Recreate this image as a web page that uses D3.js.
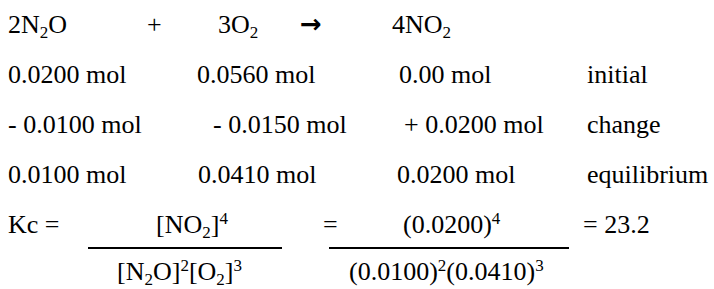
<!DOCTYPE html>
<html>
<head>
<meta charset="utf-8">
<script src="https://cdn.jsdelivr.net/npm/d3@7/dist/d3.min.js"></script>
<style>
  html, body { margin: 0; padding: 0; background: #fff; }
</style>
</head>
<body>
<div id="chart"></div>
<script>
// equation: "_x" = subscript, "^x" = superscript
const equation = ['2N_2O', '+', '3O_2', '\u2192', '4NO_2'];
const rowLabels = ['initial', 'change', 'equilibrium'];
const initial = ['0.0200 mol', '0.0560 mol', '0.00 mol'];
const change = ['- 0.0100 mol', '- 0.0150 mol', '+ 0.0200 mol'];
const equilibrium = ['0.0100 mol', '0.0410 mol', '0.0200 mol'];
const kcLabel = 'Kc =';
const kcSymbolic = { num: '[NO_2]^4', den: '[N_2O]^2[O_2]^3' };
const kcNumeric = { num: '(0.0200)^4', den: '(0.0100)^2(0.0410)^3' };
const kcResult = '= 23.2';

const width = 714, height = 289;
const fontSize = 26;
const serif = '"Liberation Serif", Tinos, serif';

const svg = d3.select('#chart').append('svg')
  .attr('width', width)
  .attr('height', height);

/* Scales */
const rowY = d3.scalePoint()
  .domain(['eq', 'initial', 'change', 'equilibrium', 'kc'])
  .range([33, 233]);

const eqX = d3.scaleOrdinal()
  .domain(d3.range(equation.length))
  .range([8, 147, 218, 300, 392]);

const colX = d3.scaleOrdinal()
  .domain([0, 1, 2, 3])
  .range([8, 197, 398, 587]);

// small nudges where the source was aligned with spaces
const rowShift = { initial: [0, 0, 1, 0], change: [0, 16, 6, 0], equilibrium: [0, 1, -1, 0] };

// write a string with _sub and ^sup into a text element
function rich(sel, str) {
  const parts = str.match(/[_^].|[^_^]+/g);
  let shift = 0;
  parts.forEach(p => {
    let dy = 0, size = fontSize, s = p;
    if (p[0] === '_') {
      s = p[1]; size = 17; dy = 5 - shift; shift = 5;
    } else if (p[0] === '^') {
      s = p[1]; size = 17; dy = -9 - shift; shift = -9;
    } else {
      dy = -shift; shift = 0;
    }
    sel.append('tspan')
      .attr('dy', dy)
      .style('font-size', size + 'px')
      .text(s);
  });
}

function txt(g) {
  return g.append('text')
    .style('font-family', serif)
    .style('font-size', fontSize + 'px');
}

/* Equation row */
svg.append('g').selectAll('text')
  .data(equation).enter()
  .append('text')
  .attr('x', (d, i) => eqX(i))
  .attr('y', rowY('eq'))
  .style('font-family', d => d === '\u2192' ? '"DejaVu Sans", sans-serif' : serif)
  .style('font-size', fontSize + 'px')
  .style('font-weight', d => d === '\u2192' ? 'bold' : 'normal')
  .each(function (d) { rich(d3.select(this), d); });

/* ICE rows */
const rows = [
  { key: 'initial', cells: initial.concat(rowLabels[0]) },
  { key: 'change', cells: change.concat(rowLabels[1]) },
  { key: 'equilibrium', cells: equilibrium.concat(rowLabels[2]) }
];

svg.append('g').selectAll('g')
  .data(rows).enter()
  .append('g')
  .each(function (r) {
    d3.select(this).selectAll('text')
      .data(r.cells).enter()
      .append('text')
      .attr('x', (d, i) => colX(i) + rowShift[r.key][i])
      .attr('y', rowY(r.key))
      .style('font-family', serif)
      .style('font-size', fontSize + 'px')
      .text(d => d);
  });

/* Kc expression */
const yKc = rowY('kc');
const kc = svg.append('g');

txt(kc).attr('x', colX(0)).attr('y', yKc).text(kcLabel);

const fractions = [
  { f: kcSymbolic, x0: 88, x1: 282, numX: 156, denX: 117 },
  { f: kcNumeric, x0: 329, x1: 569, numX: 403, denX: 349 }
];

fractions.forEach(fr => {
  txt(kc).attr('x', fr.numX).attr('y', yKc).call(rich, fr.f.num);
  kc.append('line')
    .attr('x1', fr.x0)
    .attr('x2', fr.x1)
    .attr('y1', yKc + 15)
    .attr('y2', yKc + 15)
    .attr('stroke', '#000')
    .attr('stroke-width', 2);
  txt(kc).attr('x', fr.denX).attr('y', yKc + 47).call(rich, fr.f.den);
});

txt(kc).attr('x', 323).attr('y', yKc).text('=');
txt(kc).attr('x', 583).attr('y', yKc).text(kcResult);
</script>
</body>
</html>
